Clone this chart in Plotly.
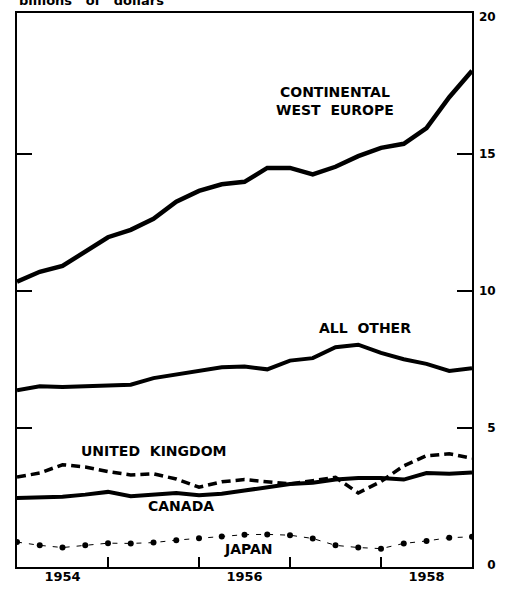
import plotly.graph_objects as go

# quarterly positions, 1954.0 .. 1959.0
quarters = [1954 + 0.25 * i for i in range(21)]

cwe = [10.34, 10.70, 10.91, 11.42, 11.96, 12.23, 12.63, 13.26, 13.65, 13.89, 13.98,
       14.49, 14.49, 14.25, 14.53, 14.92, 15.22, 15.37, 15.94, 17.07, 18.03]
all_other = [6.38, 6.52, 6.50, 6.52, 6.56, 6.58, 6.82, 6.96, 7.10, 7.22, 7.24,
             7.14, 7.46, 7.55, 7.95, 8.04, 7.74, 7.51, 7.34, 7.08, 7.18]
uk = [3.21, 3.36, 3.66, 3.58, 3.41, 3.29, 3.33, 3.14, 2.84, 3.04, 3.12,
      3.05, 2.96, 3.08, 3.20, 2.63, 3.05, 3.62, 3.99, 4.06, 3.90]
canada = [2.45, 2.47, 2.49, 2.57, 2.67, 2.51, 2.57, 2.63, 2.55, 2.60, 2.72,
          2.84, 2.96, 3.00, 3.12, 3.18, 3.18, 3.12, 3.36, 3.33, 3.38]
japan = [0.84, 0.72, 0.64, 0.72, 0.80, 0.79, 0.82, 0.91, 0.98, 1.04, 1.11,
         1.12, 1.09, 0.97, 0.72, 0.64, 0.60, 0.79, 0.88, 1.00, 1.03]

year_boundaries = [1955, 1956, 1957, 1958]
year_label_pos = [1954.5, 1956.5, 1958.5]
year_labels = ["1954", "1956", "1958"]
y_ticks = [5, 10, 15]
y_label_vals = [0, 5, 10, 15, 20]
y_label_text = ["\u20070", "\u20075", "10", "15", "20"]

FONT = "DejaVu Sans"

fig = go.Figure()
fig.add_trace(go.Scatter(x=quarters, y=cwe, mode="lines",
                         line=dict(color="black", width=4.5)))
fig.add_trace(go.Scatter(x=quarters, y=all_other, mode="lines",
                         line=dict(color="black", width=4)))
fig.add_trace(go.Scatter(x=quarters, y=uk, mode="lines",
                         line=dict(color="black", width=3.5, dash="9px,5px")))
fig.add_trace(go.Scatter(x=quarters, y=canada, mode="lines",
                         line=dict(color="black", width=4)))
fig.add_trace(go.Scatter(x=quarters, y=japan, mode="lines+markers",
                         line=dict(color="black", width=1, dash="5px,7px"),
                         marker=dict(color="black", size=6)))

labels = [
    (1957.49, 16.94, "CONTINENTAL<br>WEST  EUROPE"),
    (1957.82, 8.66, "ALL  OTHER"),
    (1955.51, 4.17, "UNITED  KINGDOM"),
    (1955.80, 2.14, "CANADA"),
    (1956.54, 0.58, "JAPAN"),
]
for x, y, t in labels:
    fig.add_annotation(x=x, y=y, text="<b>" + t + "</b>", showarrow=False,
                       xanchor="center", yanchor="middle",
                       font=dict(family=FONT, size=14, color="black"))

fig.add_annotation(x=0, y=1, xref="paper", yref="paper", xanchor="left",
                   yanchor="bottom", yshift=3, showarrow=False,
                   text="<b>billions   of   dollars</b>",
                   font=dict(family=FONT, size=13, color="black"))

fig.update_layout(
    width=506, height=594,
    margin=dict(l=17, r=29, t=10, b=26),
    paper_bgcolor="white", plot_bgcolor="white",
    showlegend=False,
    xaxis=dict(range=[1954, 1959], tickvals=year_boundaries, ticks="inside",
               ticklen=10, tickwidth=1.5, tickcolor="black",
               showticklabels=False, showgrid=False, zeroline=False,
               showline=True, linecolor="black", linewidth=2, mirror=True),
    xaxis2=dict(range=[1954, 1959], overlaying="x", side="bottom",
                tickvals=year_label_pos, ticktext=year_labels,
                ticks="", showgrid=False, zeroline=False, showline=False,
                tickfont=dict(family=FONT, size=13, color="black", weight="bold")),
    yaxis=dict(range=[-0.07, 20.14], tickvals=y_ticks, ticks="inside",
               ticklen=15, tickwidth=1.5, tickcolor="black",
               showticklabels=False, showgrid=False, zeroline=False,
               showline=True, linecolor="black", linewidth=2, mirror="ticks"),
    yaxis2=dict(range=[-0.07, 20.14], overlaying="y", side="right",
                tickvals=y_label_vals, ticktext=y_label_text,
                ticks="", showgrid=False, zeroline=False, showline=False,
                ticklabelstandoff=6,
                tickfont=dict(family=FONT, size=12, color="black", weight="bold")),
)
# invisible trace to activate the label axes
fig.add_trace(go.Scatter(x=[1954], y=[0], xaxis="x2", yaxis="y2", mode="markers",
                         marker=dict(opacity=0), hoverinfo="skip"))

fig.write_html("out.html",
               config={"displayModeBar": False},
               post_script="document.body.style.margin='0';document.body.style.overflow='hidden';")
